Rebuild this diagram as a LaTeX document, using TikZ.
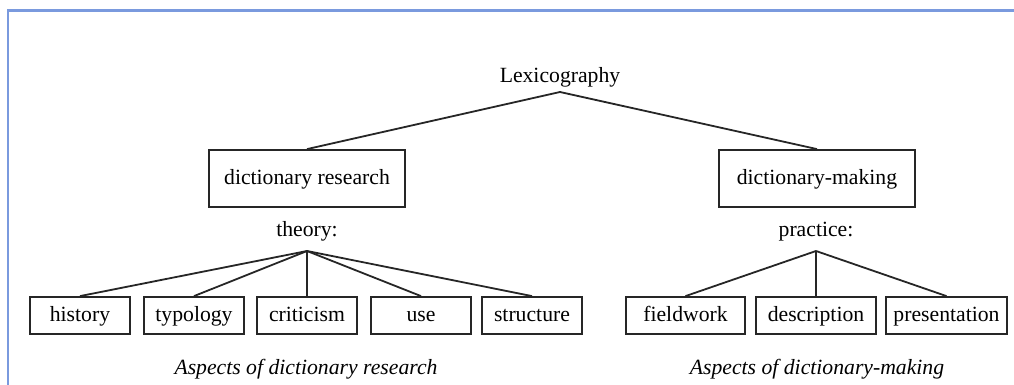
\documentclass[tikz,border=0pt]{standalone}
\usepackage{fontspec}
\setmainfont{Liberation Serif}
\definecolor{framecol}{RGB}{122,154,222}
\begin{document}
\begin{tikzpicture}[x=1pt,y=-1pt,line width=1.8pt,
	font=\fontsize{21.7}{26}\selectfont,
	box/.style={draw=black!85,inner sep=0pt,text height=16pt,text depth=4pt,
		minimum height=37pt,minimum width=100pt},
	headbox/.style={draw=black!85,inner sep=0pt,text height=16pt,text depth=4pt,
		minimum height=57pt,minimum width=196pt},
	tag/.style={anchor=south,inner xsep=0pt},
	link/.style={draw=black!85}]
	\useasboundingbox (0,0) rectangle (1014,385);
	\draw[framecol,line width=2.5pt] (8,385)--(8,10.5)--(1014,10.5);
	\node[tag,inner ysep=4pt] (lex) at (560,92) {Lexicography};
	\node[headbox] (research) at (307,178.5) {dictionary research};
	\node[headbox] (making) at (817,178.5) {dictionary-making};
	\node[tag,inner ysep=9pt] (theory) at (307,251) {theory:};
	\node[tag,inner ysep=9pt] (practice) at (816,251) {practice:};
	\node[box] (history) at (80,315.5) {history};
	\node[box] (typology) at (194,315.5) {typology};
	\node[box] (criticism) at (307,315.5) {criticism};
	\node[box] (use) at (421,315.5) {use};
	\node[box] (structure) at (532,315.5) {structure};
	\node[box,minimum width=119pt] (fieldwork) at (685.5,315.5) {fieldwork};
	\node[box,minimum width=120pt] (description) at (816,315.5) {description};
	\node[box,minimum width=121pt] (presentation) at (946.5,315.5) {presentation};
	\node[anchor=base,font=\fontsize{21.7}{26}\selectfont\itshape] (aspres) at (306,374) {Aspects of dictionary research};
	\node[anchor=base,font=\fontsize{21.7}{26}\selectfont\itshape] (aspmak) at (817,374) {Aspects of dictionary-making};
	\draw[link] (research.north)--(lex.south)--(making.north);
	\foreach \leaf in {history,typology,criticism,use,structure}
		\draw[link] (theory.south)--(\leaf.north);
	\foreach \leaf in {fieldwork,description,presentation}
		\draw[link] (practice.south)--(\leaf.north);
\end{tikzpicture}
\end{document}
